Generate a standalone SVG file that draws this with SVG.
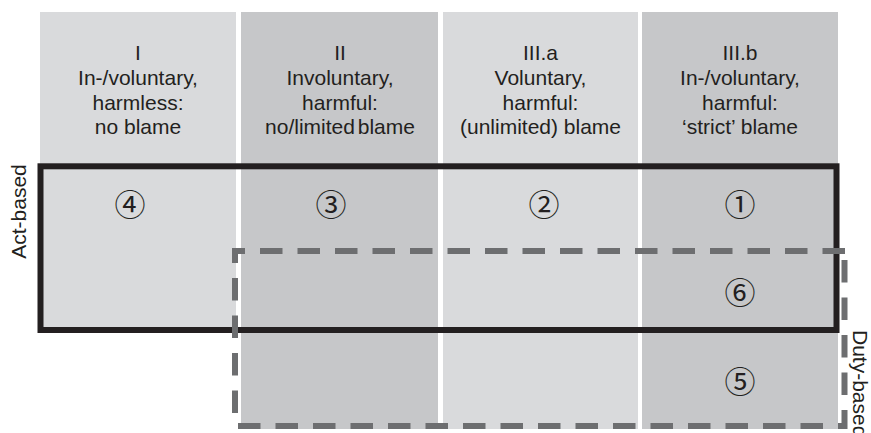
<svg xmlns="http://www.w3.org/2000/svg" width="871" height="433" viewBox="0 0 871 433">
<style>
.light{fill:#d9dadc}
.dark{fill:#c6c7c9}
.hdr{font-family:"Liberation Sans",Arial,sans-serif;font-size:21px;fill:#231f20;text-anchor:middle}
.num{font-family:"Noto Sans CJK JP","DejaVu Sans",sans-serif;font-size:31px;fill:#231f20;text-anchor:middle;dominant-baseline:central}
.side{font-family:"Liberation Sans",Arial,sans-serif;font-size:21px;fill:#231f20}
.dash{fill:none;stroke:#6d6e70;stroke-width:6;stroke-dasharray:22.5 15}
</style>
<rect width="871" height="433" fill="#ffffff"/>
<g id="col-I">
<rect class="light" x="40" y="12" width="196" height="318"/>
<text class="hdr" x="138"><tspan x="138" y="60">I</tspan><tspan x="138" y="85">In-/voluntary,</tspan><tspan x="138" y="109.5">harmless:</tspan><tspan x="138" y="134">no blame</tspan></text>
</g>
<g id="col-II">
<rect class="dark" x="241" y="12" width="197" height="417"/>
<text class="hdr" x="340"><tspan x="340" y="60">II</tspan><tspan x="340" y="85">Involuntary,</tspan><tspan x="340" y="109.5">harmful:</tspan><tspan x="340" y="134" word-spacing="-3">no/limited blame</tspan></text>
</g>
<g id="col-IIIa">
<rect class="light" x="443" y="12" width="195" height="417"/>
<text class="hdr" x="540.5"><tspan x="540.5" y="60">III.a</tspan><tspan x="540.5" y="85">Voluntary,</tspan><tspan x="540.5" y="109.5">harmful:</tspan><tspan x="540.5" y="134">(unlimited) blame</tspan></text>
</g>
<g id="col-IIIb">
<rect class="dark" x="642" y="12" width="196" height="417"/>
<text class="hdr" x="740"><tspan x="740" y="60">III.b</tspan><tspan x="740" y="85">In-/voluntary,</tspan><tspan x="740" y="109.5">harmful:</tspan><tspan x="740" y="134">‘strict’ blame</tspan></text>
</g>
<g id="act-based">
<rect x="40.5" y="166.3" width="796" height="163.7" fill="none" stroke="#231f20" stroke-width="6"/>
<text class="side" text-anchor="middle" transform="translate(26,211.5) rotate(-90)">Act-based</text>
</g>
<g id="duty-based">
<line class="dash" x1="232" y1="251" x2="845" y2="251" stroke-dashoffset="9.5"/>
<line class="dash" x1="235" y1="248" x2="235" y2="413" stroke-dashoffset="7.5"/>
<line class="dash" x1="238" y1="426" x2="847" y2="426"/>
<line class="dash" x1="844.5" y1="260" x2="844.5" y2="429"/>
<text class="side" transform="translate(853,330) rotate(90)">Duty-based</text>
</g>
<g id="cases">
<text class="num" x="130" y="202">④</text>
<text class="num" x="331" y="202">③</text>
<text class="num" x="544" y="202">②</text>
<text class="num" x="740" y="202">①</text>
<text class="num" x="740" y="290">⑥</text>
<text class="num" x="740" y="379">⑤</text>
</g>
</svg>
